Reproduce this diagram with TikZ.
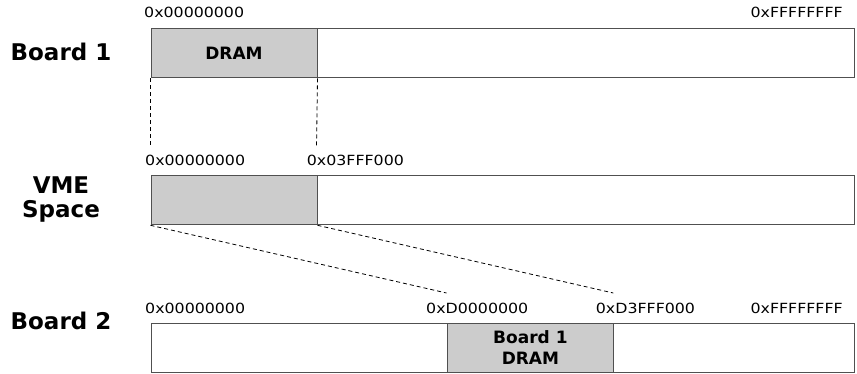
\documentclass[tikz,border=0pt]{standalone}
\usepackage{fontspec}
\setmainfont{DejaVu Sans}
\newfontfamily\hexfont[FakeStretch=1.13]{DejaVu Sans}
\definecolor{barline}{RGB}{80,80,80}
\definecolor{memfill}{RGB}{204,204,204}
\tikzset{
  bar/.style={draw=barline, line width=1pt, fill=white, anchor=north west, inner sep=0pt, minimum height=49pt},
  membox/.style={draw=barline, line width=1pt, fill=memfill, anchor=north west, inner sep=0pt, minimum height=49pt,
    font=\bfseries\fontsize{17}{20.6}\selectfont, align=center, text=black},
  hex/.style={inner sep=0pt, font=\hexfont\fontsize{14}{16}\selectfont},
  title/.style={inner sep=0pt, font=\bfseries\fontsize{23}{24}\selectfont, align=center},
  map/.style={draw=black, line width=0.8pt, dash pattern=on 4pt off 3pt}
}
\begin{document}
\begin{tikzpicture}[x=1pt,y=-1pt]
\useasboundingbox (0,0) rectangle (857,373);
% Board 1
\node[title] (t1) at (61,52) {Board 1};
\node[bar, minimum width=703.5pt] (b1) at (150.5,28.3) {};
\node[membox, minimum width=166pt] (d1) at (150.5,28.3) {DRAM};
\node[hex, anchor=west] (h1a) at (144,12) {0x00000000};
\node[hex, anchor=east] (h1b) at (843,12) {0xFFFFFFFF};
% VME
\node[title] (tv) at (61,199.5) {VME\\Space};
\node[bar, minimum width=703.5pt] (bv) at (150.5,175.3) {};
\node[membox, minimum width=166pt] (dv) at (150.5,175.3) {};
\node[hex, anchor=west] (hva) at (145,160) {0x00000000};
\node[hex, anchor=west] (hvb) at (306.7,160) {0x03FFF000};
% Board 2
\node[title] (t2) at (61,321) {Board 2};
\node[bar, minimum width=703.5pt] (b2) at (150.5,322.7) {};
\node[membox, minimum width=166.8pt] (d2) at (446.5,322.7) {Board 1\\DRAM};
\node[hex, anchor=west] (h2a) at (145,308) {0x00000000};
\node[hex, anchor=east] (h2b) at (528.5,308) {0xD0000000};
\node[hex, anchor=west] (h2c) at (595.7,308) {0xD3FFF000};
\node[hex, anchor=east] (h2d) at (843,308) {0xFFFFFFFF};
% connectors
\coordinate (v1) at (150.5,148);
\coordinate (v2) at (316.5,148);
\coordinate (e1) at (446.5,293);
\coordinate (e2) at (613.3,293);
\draw[map] (d1.south west) -- (v1);
\draw[map] (d1.south east) -- (v2);
\draw[map] (dv.south west) -- (e1);
\draw[map] (dv.south east) -- (e2);
\end{tikzpicture}
\end{document}
